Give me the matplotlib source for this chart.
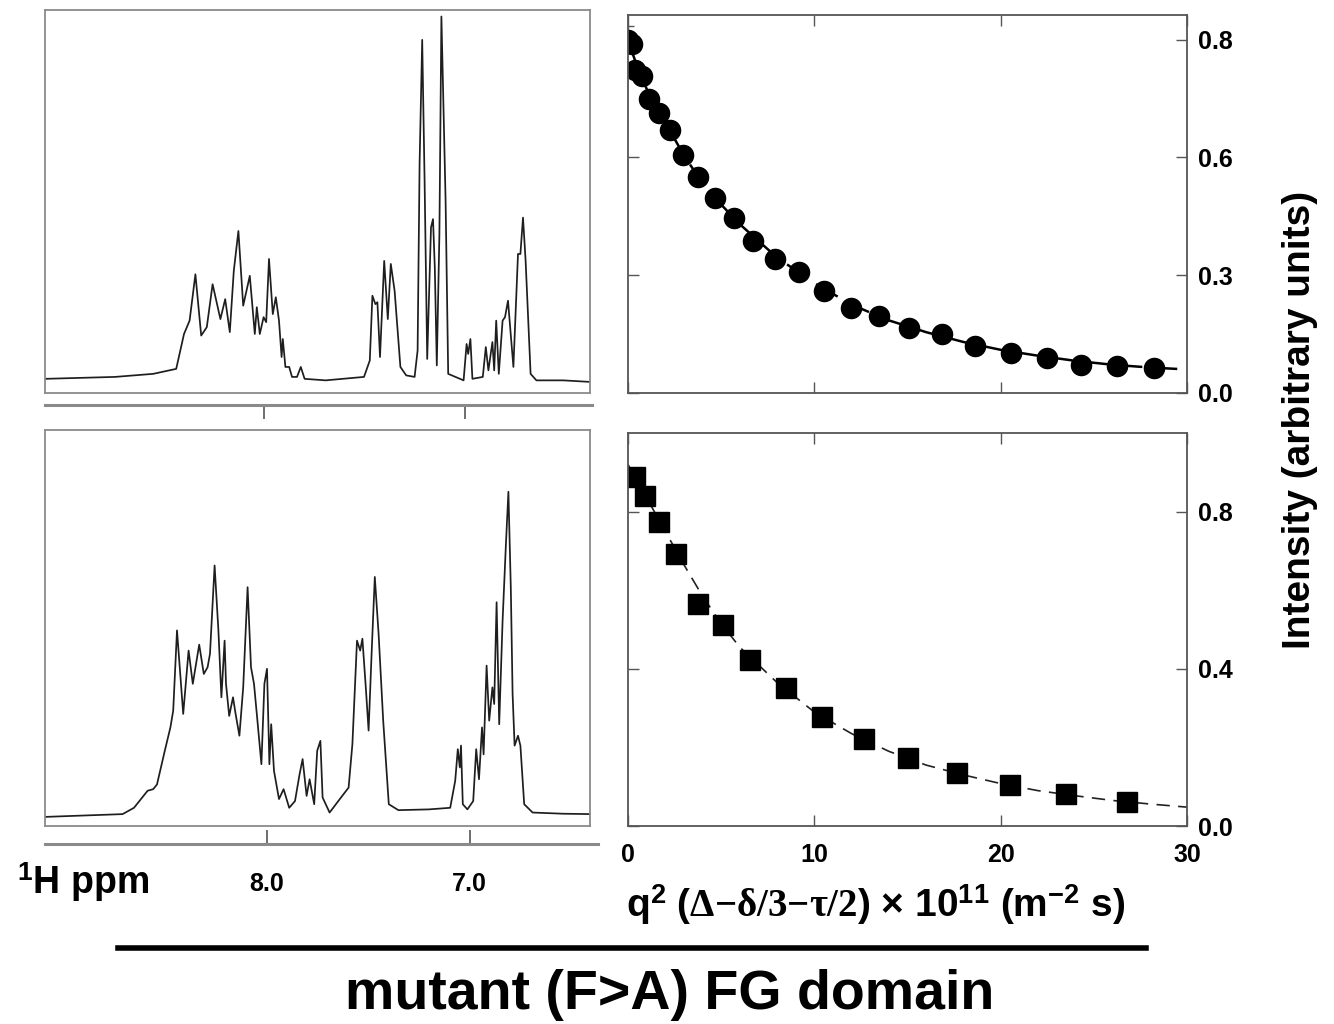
import matplotlib
matplotlib.use('Agg')
import matplotlib.pyplot as plt
from matplotlib.ticker import FixedLocator, NullLocator

plt.rcParams['font.family'] = ['Liberation Sans', 'DejaVu Sans']
plt.rcParams['font.weight'] = 'bold'
plt.rcParams['mathtext.fontset'] = 'custom'
plt.rcParams['mathtext.rm'] = 'Liberation Serif'
plt.rcParams['mathtext.it'] = 'Liberation Serif'
plt.rcParams['mathtext.bf'] = 'Liberation Sans:bold'

# 1H spectra, vertices (ppm, relative intensity)
top_ppm = [9.092, 8.743, 8.552, 8.437, 8.398, 8.370, 8.341, 8.312, 8.284, 8.255,
           8.216, 8.192, 8.169, 8.149, 8.126, 8.102, 8.069, 8.044, 8.034, 8.019,
           8.000, 7.987, 7.973, 7.954, 7.939, 7.923, 7.910, 7.904, 7.891, 7.872,
           7.858, 7.833, 7.814, 7.795, 7.690, 7.498, 7.469, 7.456, 7.441, 7.431,
           7.418, 7.397, 7.379, 7.364, 7.345, 7.316, 7.287, 7.245, 7.230, 7.220,
           7.207, 7.195, 7.182, 7.163, 7.153, 7.144, 7.134, 7.121, 7.111, 7.102,
           7.090, 7.077, 7.000, 6.985, 6.977, 6.966, 6.956, 6.904, 6.889, 6.876,
           6.856, 6.847, 6.837, 6.824, 6.805, 6.793, 6.778, 6.751, 6.728, 6.716,
           6.703, 6.690, 6.665, 6.636, 6.502, 6.368]
top_int = [0.037, 0.042, 0.050, 0.063, 0.154, 0.189, 0.310, 0.150, 0.172, 0.284,
           0.193, 0.245, 0.159, 0.319, 0.423, 0.228, 0.306, 0.154, 0.224, 0.154,
           0.198, 0.185, 0.350, 0.206, 0.250, 0.189, 0.094, 0.141, 0.068, 0.068,
           0.042, 0.042, 0.068, 0.037, 0.033, 0.042, 0.085, 0.254, 0.232, 0.237,
           0.094, 0.345, 0.193, 0.337, 0.267, 0.068, 0.046, 0.042, 0.111, 0.601,
           0.922, 0.553, 0.089, 0.432, 0.454, 0.328, 0.072, 0.415, 0.983, 0.779,
           0.501, 0.050, 0.033, 0.128, 0.102, 0.141, 0.037, 0.042, 0.120, 0.059,
           0.133, 0.059, 0.189, 0.050, 0.189, 0.198, 0.241, 0.068, 0.363, 0.363,
           0.458, 0.346, 0.050, 0.033, 0.033, 0.029]

bot_ppm = [9.092, 8.705, 8.648, 8.580, 8.552, 8.533, 8.494, 8.466, 8.452, 8.433,
           8.418, 8.402, 8.375, 8.354, 8.322, 8.299, 8.280, 8.268, 8.245, 8.226,
           8.211, 8.195, 8.188, 8.172, 8.153, 8.140, 8.121, 8.102, 8.080, 8.063,
           8.048, 8.034, 8.011, 7.996, 7.983, 7.971, 7.962, 7.948, 7.923, 7.900,
           7.872, 7.843, 7.820, 7.805, 7.785, 7.770, 7.747, 7.732, 7.716, 7.705,
           7.670, 7.613, 7.575, 7.556, 7.533, 7.517, 7.506, 7.489, 7.475, 7.460,
           7.444, 7.425, 7.402, 7.374, 7.326, 7.172, 7.067, 7.042, 7.029, 7.019,
           7.013, 7.004, 6.981, 6.952, 6.937, 6.923, 6.908, 6.900, 6.885, 6.872,
           6.856, 6.847, 6.835, 6.822, 6.805, 6.789, 6.776, 6.764, 6.755, 6.745,
           6.728, 6.716, 6.697, 6.655, 6.502, 6.358]
bot_int = [0.023, 0.030, 0.046, 0.089, 0.093, 0.105, 0.190, 0.249, 0.291, 0.494,
           0.392, 0.283, 0.443, 0.359, 0.458, 0.384, 0.401, 0.435, 0.658, 0.494,
           0.325, 0.468, 0.359, 0.278, 0.325, 0.283, 0.228, 0.350, 0.603, 0.401,
           0.359, 0.283, 0.156, 0.359, 0.397, 0.156, 0.257, 0.139, 0.068, 0.093,
           0.046, 0.063, 0.131, 0.169, 0.076, 0.118, 0.055, 0.190, 0.215, 0.072,
           0.034, 0.072, 0.097, 0.207, 0.468, 0.443, 0.473, 0.350, 0.241, 0.435,
           0.629, 0.485, 0.266, 0.055, 0.040, 0.042, 0.046, 0.114, 0.194, 0.148,
           0.203, 0.055, 0.042, 0.063, 0.194, 0.118, 0.249, 0.181, 0.405, 0.266,
           0.350, 0.308, 0.565, 0.257, 0.519, 0.705, 0.844, 0.603, 0.333, 0.203,
           0.228, 0.203, 0.055, 0.034, 0.031, 0.030]

# diffusion decays
circ_q = [0.0, 0.2, 0.38, 0.76, 1.13, 1.64, 2.27, 2.97, 3.73, 4.66, 5.67, 6.73,
          7.87, 9.20, 10.54, 11.97, 13.49, 15.08, 16.84, 18.61, 20.57, 22.49,
          24.33, 26.27, 28.24]
circ_I = [0.900, 0.890, 0.822, 0.807, 0.749, 0.714, 0.670, 0.606, 0.551, 0.498,
          0.445, 0.388, 0.341, 0.307, 0.261, 0.216, 0.195, 0.165, 0.150, 0.119,
          0.103, 0.089, 0.072, 0.068, 0.064]
fit_top_q = [0, 0.5, 1, 1.5, 2, 3, 4, 5, 6, 8, 10, 12, 14, 16, 18, 20, 22, 24, 26, 28, 30]
fit_top_I = [0.900, 0.83, 0.775, 0.725, 0.69, 0.605, 0.535, 0.48, 0.43, 0.345, 0.28,
             0.225, 0.185, 0.155, 0.13, 0.11, 0.095, 0.082, 0.072, 0.065, 0.06]

sq_q = [0.38, 0.93, 1.69, 2.60, 3.73, 5.09, 6.55, 8.50, 10.41, 12.66, 15.05,
        17.65, 20.50, 23.50, 26.77]
sq_I = [0.888, 0.839, 0.773, 0.692, 0.565, 0.511, 0.423, 0.350, 0.277, 0.222,
        0.174, 0.134, 0.104, 0.081, 0.061]
fit_bot_q = [0, 1, 2, 3, 4, 5, 6, 8, 10, 12, 14, 16, 18, 20, 22, 24, 26, 28, 30]
fit_bot_I = [0.92, 0.835, 0.75, 0.665, 0.585, 0.515, 0.455, 0.365, 0.29, 0.235,
             0.19, 0.155, 0.13, 0.108, 0.09, 0.077, 0.065, 0.056, 0.048]

ppm_ticks = [8.0, 7.0]
ppm_labels = ['8.0', '7.0']
q_ticks = [0, 10, 20, 30]
top_yticks = [0.0, 0.3, 0.6, 0.9]
top_ylabels = ['0.0', '0.3', '0.6', '0.8']
bot_yticks = [0.0, 0.4, 0.8]
bot_ylabels = ['0.0', '0.4', '0.8']

W, H = 1334, 1024
fig = plt.figure(figsize=(W / 100, H / 100), dpi=100)


def box(x0, y0, x1, y1):
    # pixel box (top-left origin) -> figure fraction rect
    return [x0 / W, 1 - y1 / H, (x1 - x0) / W, (y1 - y0) / H]


frame_col = '#8a8a8a'
ppm_lim = (9.093, 6.368)

for rect, ppm, inten in [(box(45, 10, 590, 393), top_ppm, top_int),
                         (box(45, 430, 590, 826), bot_ppm, bot_int)]:
    ax = fig.add_axes(rect)
    ax.plot(ppm, inten, color='#1e1e1e', lw=1.25)
    ax.set_xlim(*ppm_lim)
    ax.set_ylim(0, 1)
    ax.xaxis.set_major_locator(NullLocator())
    ax.yaxis.set_major_locator(NullLocator())
    for s in ax.spines.values():
        s.set_color(frame_col)
        s.set_linewidth(1.3)

# separate ppm scale lines
ax_t = fig.add_axes(box(45, 405, 592, 420))
ax_b = fig.add_axes(box(45, 829, 598, 844))
for a, direction in [(ax_t, 'out'), (ax_b, 'in')]:
    a.set_xlim(*ppm_lim)
    a.patch.set_visible(False)
    for k in ['left', 'right', 'top']:
        a.spines[k].set_visible(False)
    a.spines['bottom'].set_color(frame_col)
    a.spines['bottom'].set_linewidth(2.2)
    a.set_yticks([])
    a.set_xticks(ppm_ticks)
    a.tick_params(axis='x', direction=direction, length=10, width=1.2, color='#555555')
ax_t.set_xticklabels([])
ax_t.spines['bottom'].set_position(('axes', 1.0))
ax_b.set_xticklabels(ppm_labels, fontsize=18, fontweight='bold')
ax_b.tick_params(axis='x', pad=20)

# diffusion panels
spine_col = '#555555'
ax1 = fig.add_axes(box(628, 15, 1187, 393))
ax2 = fig.add_axes(box(628, 433, 1187, 826))

ax1.plot(fit_top_q, fit_top_I, color='black', lw=1.8, dashes=(10, 4))
ax1.errorbar(circ_q[:1], circ_I[:1], yerr=[0.035], fmt='none', ecolor='#555555',
             elinewidth=1, capsize=4)
ax1.plot(circ_q, circ_I, 'o', color='black', ms=14.5)
ax1.set_ylim(0, 0.963)
ax1.yaxis.set_major_locator(FixedLocator(top_yticks))
ax1.set_yticklabels(top_ylabels)

ax2.plot(fit_bot_q, fit_bot_I, color='#222222', lw=1.2, dashes=(8, 5))
ax2.plot(sq_q, sq_I, 's', color='black', ms=14)
ax2.set_ylim(0, 1.0)
ax2.yaxis.set_major_locator(FixedLocator(bot_yticks))
ax2.set_yticklabels(bot_ylabels)

for a in (ax1, ax2):
    a.set_xlim(0, 30)
    a.xaxis.set_major_locator(FixedLocator(q_ticks))
    a.tick_params(direction='in', length=8, width=1, color=spine_col,
                  top=True, bottom=True, left=True, right=True,
                  labelleft=False, labelright=True, labelsize=18, pad=8)
    for s in a.spines.values():
        s.set_color(spine_col)
        s.set_linewidth(1.3)
    for lab in a.get_yticklabels():
        lab.set_fontweight('bold')
ax1.tick_params(labelbottom=False)
ax2.tick_params(axis='x', pad=12)
for lab in ax2.get_xticklabels():
    lab.set_fontweight('bold')

fig.text(83 / W, 1 - 882 / H, r'$^{\mathbf{1}}$H ppm', ha='center', va='center',
         fontsize=27, fontweight='bold')
fig.text(876 / W, 1 - 905 / H,
         r'q$^{\mathbf{2}}$ ($\Delta{-}\delta/3{-}\tau/2$) × 10$^{\mathbf{11}}$ (m$^{\mathbf{-2}}$ s)',
         ha='center', va='center', fontsize=28, fontweight='bold')
fig.text(1300 / W, 1 - 420 / H, 'Intensity (arbitrary units)', rotation=90,
         ha='center', va='center', fontsize=28, fontweight='bold')
fig.add_artist(plt.Line2D([118 / W, 1146 / W], [1 - 948 / H, 1 - 948 / H],
                          color='black', lw=4, transform=fig.transFigure))
fig.text(670 / W, 1 - 995 / H, 'mutant (F>A) FG domain', ha='center', va='center',
         fontsize=40, fontweight='bold')

fig.savefig('out.png', dpi=100)
